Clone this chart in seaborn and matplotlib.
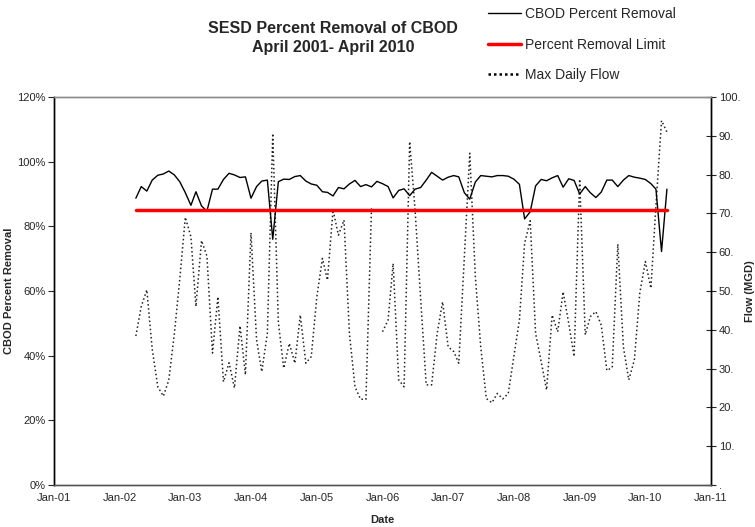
import pandas as pd
import numpy as np
import matplotlib
matplotlib.use('Agg')
import matplotlib.pyplot as plt
import matplotlib.dates as mdates
from matplotlib.lines import Line2D
import seaborn as sns

# monthly values, April 2002 .. May 2010
cbod_pct = [88.7, 92.3, 90.9, 94.3, 95.8, 96.2, 97.1, 95.9, 93.8, 90.4,
            86.5, 90.7, 86.3, 84.7, 91.5, 91.5, 94.5, 96.4, 95.9, 95.1,
            95.3, 88.7, 92.3, 94.0, 94.3, 76.0, 93.8, 94.6, 94.5, 95.4,
            95.7, 94.0, 93.1, 92.7, 90.7, 90.5, 89.4, 92.0, 91.6, 93.1,
            94.2, 92.3, 92.9, 92.2, 93.9, 93.2, 92.3, 88.8, 91.1, 91.6,
            89.5, 91.5, 92.0, 94.3, 96.7, 95.5, 94.3, 95.2, 95.7, 95.3,
            90.4, 88.4, 93.7, 95.7, 95.5, 95.3, 95.7, 95.7, 95.5, 94.6,
            93.0, 82.3, 84.5, 92.5, 94.5, 94.1, 95.0, 95.7, 92.1, 94.7,
            94.2, 90.0, 92.3, 90.4, 88.9, 90.6, 94.3, 94.3, 92.3, 94.3,
            95.7, 95.2, 94.9, 94.5, 93.2, 91.5, 72.2, 91.5]

max_flow = [38.4, 46.0, 50.3, 35.0, 25.3, 22.9, 27.0, 39.0, 53.0, 69.0,
            64.0, 46.0, 63.0, 59.0, 34.0, 48.5, 26.6, 31.5, 25.0, 41.0,
            28.4, 65.0, 37.4, 29.2, 39.1, 90.6, 42.0, 30.1, 36.5, 31.4,
            43.8, 31.4, 33.1, 48.5, 58.4, 52.8, 70.9, 64.4, 68.3, 39.1,
            25.3, 22.1, 22.1, 71.7, np.nan, 39.5, 42.5, 57.1, 27.1, 25.3,
            88.5, 70.9, 48.0, 25.8, 25.8, 39.1, 47.2, 35.6, 34.4, 31.4,
            58.8, 85.5, 53.7, 35.6, 22.3, 21.2, 23.6, 22.2, 23.6, 33.1,
            42.5, 62.3, 68.1, 39.1, 31.8, 24.5, 43.8, 39.5, 49.8, 41.7,
            33.1, 78.8, 38.7, 43.4, 44.7, 41.2, 29.5, 30.3, 62.1, 35.6,
            27.1, 32.2, 49.4, 57.6, 50.7, 72.0, 93.9, 91.0]

removal_limit = 85.0
flow_ticks = [0, 10, 20, 30, 40, 50, 60, 70, 80, 90, 100]
flow_tick_labels = ['.', '10.', '20.', '30.', '40.', '50.', '60.', '70.', '80.', '90.', '100.']

dates = pd.date_range('2002-04-01', periods=len(cbod_pct), freq='MS')
df = pd.DataFrame({'date': dates, 'cbod': cbod_pct, 'flow': max_flow})
df['limit'] = removal_limit
# separate runs of flow so the missing month leaves a gap
df['seg'] = df['flow'].isna().cumsum()

sns.set_style('white')
plt.rcParams['font.family'] = ['Liberation Sans', 'DejaVu Sans']

fig = plt.figure(figsize=(7.55, 5.27), dpi=100)
ax = fig.add_axes([54/755, 1-485/527, (711-54)/755, (485-97)/527])
ax2 = ax.twinx()

sns.lineplot(data=df, x='date', y='cbod', ax=ax, color='black', linewidth=1.0)
sns.lineplot(data=df, x='date', y='limit', ax=ax, color='#ff0000', linewidth=2.5)
flow_df = df.dropna(subset=['flow'])
sns.lineplot(data=flow_df, x='date', y='flow', units='seg', estimator=None, ax=ax2,
             color='#222222', linewidth=1.1, linestyle=(0, (1, 1.7)))
ax.set_zorder(ax2.get_zorder() + 1)
ax.patch.set_visible(False)

ax.set_xlim(pd.Timestamp('2001-01-01'), pd.Timestamp('2011-01-01'))
ax.set_ylim(0, 120)
ax2.set_ylim(0, 100)
ax.xaxis.set_major_locator(mdates.YearLocator())
ax.xaxis.set_major_formatter(mdates.DateFormatter('%b-%y'))
ax.set_yticks(range(0, 121, 20))
ax.set_yticklabels([f'{v}%' for v in range(0, 121, 20)])
ax2.set_yticks(flow_ticks)
ax2.set_yticklabels(flow_tick_labels)

ax.tick_params(axis='x', direction='in', length=4, labelsize=8, pad=6, color='#333333')
ax.tick_params(axis='y', direction='out', length=4, labelsize=8, pad=2)
ax2.tick_params(axis='y', direction='inout', length=7, labelsize=8, pad=2)

ax.set_xlabel('Date', fontsize=8, fontweight='bold')
ax.xaxis.set_label_coords(0.5, -0.077)
ax.set_ylabel('CBOD Percent Removal', fontsize=8, fontweight='bold')
ax.yaxis.set_label_coords(-0.061, 0.5)
ax2.set_ylabel('Flow (MGD)', fontsize=8, fontweight='bold')
ax2.yaxis.set_label_coords(1.052, 0.5)

for a in (ax, ax2):
    a.spines['top'].set_color('#8c8c8c')
    a.spines['bottom'].set_color('#555555')
    a.spines['left'].set_color('black')
    a.spines['right'].set_color('black')
    for s in a.spines.values():
        s.set_linewidth(1.0)

fig.text(333/755, 1-38/527, 'SESD Percent Removal of CBOD\nApril 2001- April 2010',
         ha='center', va='center', fontsize=11.5, fontweight='bold', linespacing=1.3)

handles = [Line2D([], [], color='black', linewidth=1.0),
           Line2D([], [], color='#ff0000', linewidth=2.5),
           Line2D([], [], color='black', linewidth=1.8, linestyle=(0, (1, 1.2)))]
labels = ['CBOD Percent Removal', 'Percent Removal Limit', 'Max Daily Flow']
fig.legend(handles, labels, loc='upper left', bbox_to_anchor=(488/755, 1-7/527),
           frameon=False, fontsize=10, handlelength=2.4, handletextpad=0.25,
           labelspacing=1.2, borderpad=0, borderaxespad=0)

fig.savefig('out.png', dpi=100)
